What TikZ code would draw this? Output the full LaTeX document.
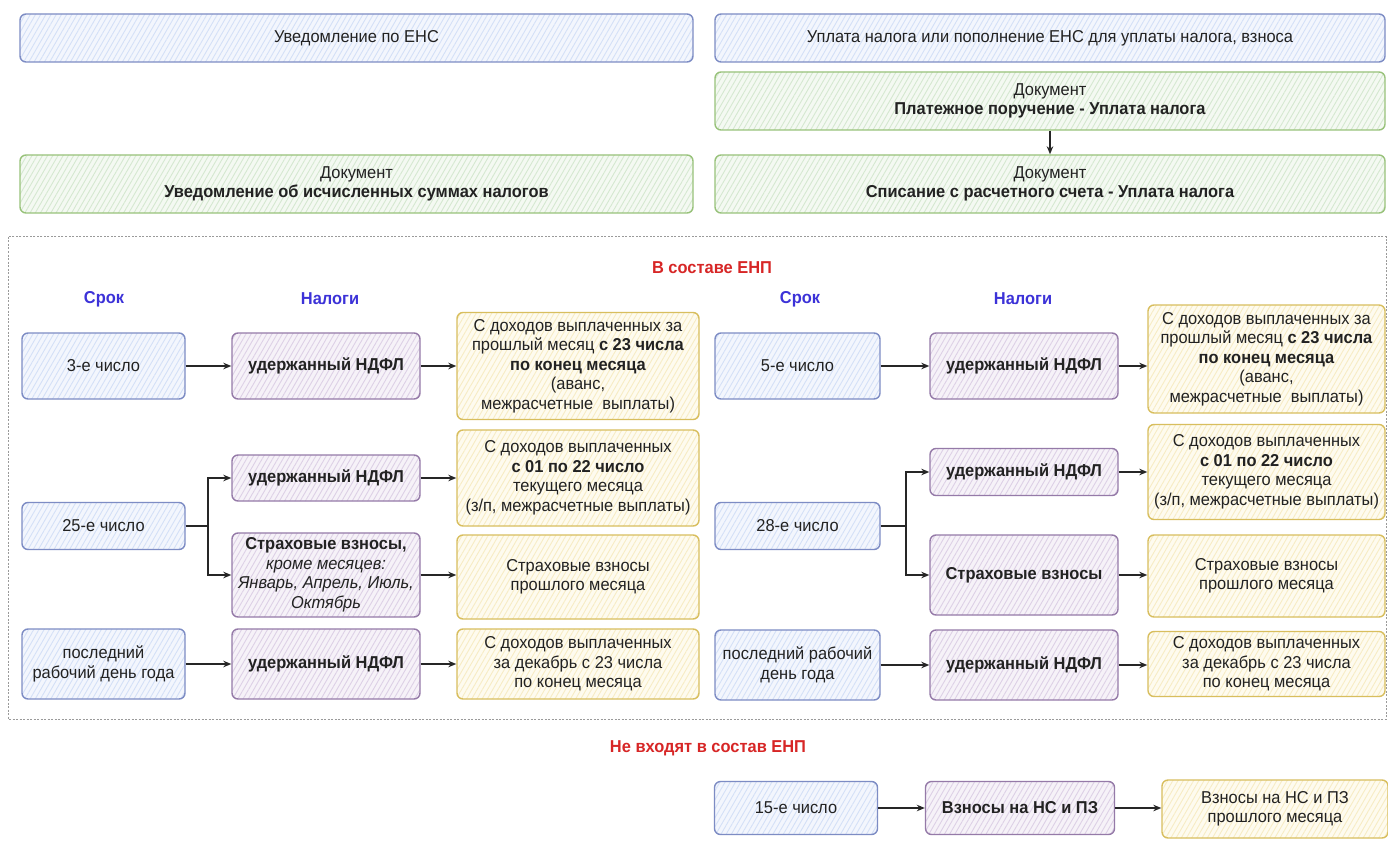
\documentclass[tikz,border=0pt]{standalone}
\usepackage{fontspec}
\setmainfont{Liberation Sans}[FakeStretch=0.955]
\usetikzlibrary{arrows.meta,patterns.meta}
\definecolor{blueln}{HTML}{7D8CC4}
\definecolor{bluehat}{HTML}{D4E0F7}
\definecolor{bluebg}{HTML}{F3F6FD}
\definecolor{purpln}{HTML}{957AA8}
\definecolor{purphat}{HTML}{DDD0E6}
\definecolor{purpbg}{HTML}{F6F2F8}
\definecolor{greenln}{HTML}{98C27A}
\definecolor{greenhat}{HTML}{D5E8D0}
\definecolor{greenbg}{HTML}{F4F9F2}
\definecolor{yelln}{HTML}{D8BE5E}
\definecolor{yelhat}{HTML}{F7ECC4}
\definecolor{yelbg}{HTML}{FEFBEF}
\definecolor{redt}{HTML}{D72626}
\definecolor{bluet}{HTML}{3C32D8}
\definecolor{txt}{HTML}{222222}
\definecolor{frame}{HTML}{9A9A9A}
\newcommand\txtsz{\fontsize{17.2}{19.5}\selectfont}
\newcommand\hdsz{\fontsize{17.2}{19}\selectfont\bfseries}
\tikzset{
  sk/.style={rounded corners=6pt, line width=1.4pt, inner sep=2pt, align=center,
    font=\txtsz, text=txt},
  bl/.style={sk, draw=blueln, preaction={fill=bluebg},
    pattern={Lines[angle=60,distance=4.5pt,line width=0.9pt]}, pattern color=bluehat},
  pu/.style={sk, draw=purpln, preaction={fill=purpbg},
    pattern={Lines[angle=60,distance=4.5pt,line width=0.9pt]}, pattern color=purphat},
  gr/.style={sk, draw=greenln, preaction={fill=greenbg},
    pattern={Lines[angle=60,distance=4.5pt,line width=0.9pt]}, pattern color=greenhat},
  ye/.style={sk, draw=yelln, preaction={fill=yelbg},
    pattern={Lines[angle=60,distance=4.5pt,line width=0.9pt]}, pattern color=yelhat},
  arr/.style={draw=black!85, line width=1.4pt, -{Stealth[length=8pt,width=6.5pt]}},
  ln/.style={draw=black!85, line width=1.4pt},
  redhd/.style={font=\hdsz, text=redt},
  bluhd/.style={font=\hdsz, text=bluet},
}
\begin{document}
\begin{tikzpicture}[x=1pt,y=-1pt]
\useasboundingbox (0,0) rectangle (1388,850);
\fill[white] (0,0) rectangle (1388,850);

% top section
\node[bl, minimum width=673pt, minimum height=48pt] (une) at (356.5,38) {Уведомление по ЕНС};
\node[bl, minimum width=670pt, minimum height=48pt] (upl) at (1050,38) {Уплата налога или пополнение ЕНС для уплаты налога, взноса};
\node[gr, minimum width=670pt, minimum height=58pt] (pp) at (1050,101) {Документ\\\textbf{Платежное поручение - Уплата налога}};
\node[gr, minimum width=670pt, minimum height=58pt] (sp) at (1050,184) {Документ\\\textbf{Списание с расчетного счета - Уплата налога}};
\node[gr, minimum width=673pt, minimum height=58pt] (uv) at (356.5,184) {Документ\\\textbf{Уведомление об исчисленных суммах налогов}};
\draw[arr] (pp) -- (sp);

% container
\draw[frame, line width=1pt, dash pattern=on 2pt off 1.5pt] (8,237) rectangle (1386,719);

\node[redhd] (enp) at (712,268) {В составе ЕНП};
\node[bluhd] (srokL) at (104,299) {Срок};
\node[bluhd] (nalL) at (330,299) {Налоги};
\node[bluhd] (srokR) at (800,299) {Срок};
\node[bluhd] (nalR) at (1023,299) {Налоги};

% left block
\node[bl, minimum width=163pt, minimum height=66pt] (A1) at (103.5,366) {3-е число};
\node[pu, minimum width=188pt, minimum height=66pt] (B1) at (326,366) {\textbf{удержанный НДФЛ}};
\node[ye, minimum width=242pt, minimum height=107pt] (C1) at (578,366) {С доходов выплаченных за\\прошлый месяц \textbf{с 23 числа}\\\textbf{по конец месяца}\\(аванс,\\межрасчетные~ выплаты)};

\node[bl, minimum width=163pt, minimum height=47pt] (A2) at (103.5,526) {25-е число};
\node[pu, minimum width=188pt, minimum height=46pt] (B2a) at (326,478) {\textbf{удержанный НДФЛ}};
\node[ye, minimum width=242pt, minimum height=96pt] (C2a) at (578,478) {С доходов выплаченных\\\textbf{с 01 по 22 число}\\текущего месяца\\(з/п, межрасчетные выплаты)};
\node[pu, minimum width=188pt, minimum height=84pt] (B2b) at (326,575) {\textbf{Страховые взносы,}\\\textit{кроме месяцев:}\\\textit{Январь, Апрель, Июль,}\\\textit{Октябрь}};
\node[ye, minimum width=242pt, minimum height=84pt] (C2b) at (578,577) {Страховые взносы\\прошлого месяца};

\node[bl, minimum width=163pt, minimum height=70pt] (A3) at (103.5,664) {последний\\рабочий день года};
\node[pu, minimum width=188pt, minimum height=70pt] (B3) at (326,664) {\textbf{удержанный НДФЛ}};
\node[ye, minimum width=242pt, minimum height=70pt] (C3) at (578,664) {С доходов выплаченных\\за декабрь с 23 числа\\по конец месяца};

\coordinate (jL) at (208,526);
\draw[arr] (A1) -- (B1);
\draw[arr] (B1.east) -- (B1.east -| C1.west);
\draw[ln] (A2.east) -- (jL);
\draw[arr] (jL) |- (B2a.west);
\draw[arr] (jL) |- (B2b.west);
\draw[arr] (B2a.east) -- (B2a.east -| C2a.west);
\draw[arr] (B2b.east) -- (B2b.east -| C2b.west);
\draw[arr] (A3) -- (B3);
\draw[arr] (B3.east) -- (B3.east -| C3.west);

% right block
\node[bl, minimum width=165pt, minimum height=66pt] (A1r) at (797.5,366) {5-е число};
\node[pu, minimum width=188pt, minimum height=66pt] (B1r) at (1024,366) {\textbf{удержанный НДФЛ}};
\node[ye, minimum width=237pt, minimum height=108pt] (C1r) at (1266.5,359) {С доходов выплаченных за\\прошлый месяц \textbf{с 23 числа}\\\textbf{по конец месяца}\\(аванс,\\межрасчетные~ выплаты)};

\node[bl, minimum width=165pt, minimum height=47pt] (A2r) at (797.5,526) {28-е число};
\node[pu, minimum width=188pt, minimum height=47pt] (B2ar) at (1024,472) {\textbf{удержанный НДФЛ}};
\node[ye, minimum width=237pt, minimum height=95pt] (C2ar) at (1266.5,472) {С доходов выплаченных\\\textbf{с 01 по 22 число}\\текущего месяца\\(з/п, межрасчетные выплаты)};
\node[pu, minimum width=188pt, minimum height=80pt] (B2br) at (1024,575) {\textbf{Страховые взносы}};
\node[ye, minimum width=237pt, minimum height=82pt] (C2br) at (1266.5,576) {Страховые взносы\\прошлого месяца};

\node[bl, minimum width=165pt, minimum height=70pt] (A3r) at (797.5,665) {последний рабочий\\день года};
\node[pu, minimum width=188pt, minimum height=70pt] (B3r) at (1024,665) {\textbf{удержанный НДФЛ}};
\node[ye, minimum width=237pt, minimum height=65pt] (C3r) at (1266.5,664) {С доходов выплаченных\\за декабрь с 23 числа\\по конец месяца};

\coordinate (jR) at (906,526);
\draw[arr] (A1r) -- (B1r);
\draw[arr] (B1r.east) -- (B1r.east -| C1r.west);
\draw[ln] (A2r.east) -- (jR);
\draw[arr] (jR) |- (B2ar.west);
\draw[arr] (jR) |- (B2br.west);
\draw[arr] (B2ar.east) -- (B2ar.east -| C2ar.west);
\draw[arr] (B2br.east) -- (B2br.east -| C2br.west);
\draw[arr] (A3r) -- (B3r);
\draw[arr] (B3r.east) -- (B3r.east -| C3r.west);

% bottom
\node[redhd] (nenp) at (708,748) {Не входят в состав ЕНП};
\node[bl, minimum width=163pt, minimum height=53pt] (A4) at (796,808) {15-е число};
\node[pu, minimum width=189pt, minimum height=53pt] (B4) at (1020,808) {\textbf{Взносы на НС и ПЗ}};
\node[ye, minimum width=226pt, minimum height=58pt] (C4) at (1275,809) {Взносы на НС и ПЗ\\прошлого месяца};
\draw[arr] (A4) -- (B4);
\draw[arr] (B4.east) -- (B4.east -| C4.west);
\end{tikzpicture}
\end{document}
